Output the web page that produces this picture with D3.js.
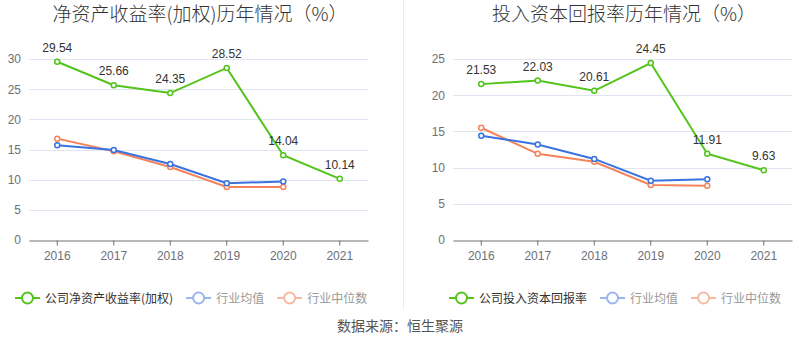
<!DOCTYPE html>
<html>
<head>
<meta charset="utf-8">
<script src="https://cdn.jsdelivr.net/npm/d3@7"></script>
<style>
  body { margin: 0; background: #fff; }
  svg { display: block; font-family: "Noto Sans CJK SC", "Liberation Sans", sans-serif; }
</style>
</head>
<body>
<div id="hook"></div>
<script>
var years = ["2016", "2017", "2018", "2019", "2020", "2021"];

var roe = [29.54, 25.66, 24.35, 28.52, 14.04, 10.14];
var roeAvg = [15.7, 14.9, 12.6, 9.4, 9.7];
var roeMed = [16.8, 14.7, 12.1, 8.8, 8.8];

var roic = [21.53, 22.03, 20.61, 24.45, 11.91, 9.63];
var roicAvg = [14.4, 13.2, 11.2, 8.2, 8.4];
var roicMed = [15.5, 11.9, 10.8, 7.6, 7.5];

var roeTicks = [0, 5, 10, 15, 20, 25, 30];
var roicTicks = [0, 5, 10, 15, 20, 25];

var green = "#52c41a", blue = "#3a72e0", orange = "#f5845a";

var svg = d3.select("#hook").append("svg")
    .attr("width", 800)
    .attr("height", 358);

// divider between the two charts
svg.append("line")
    .attr("x1", 403.5).attr("x2", 403.5)
    .attr("y1", 0).attr("y2", 310)
    .attr("stroke", "#eeeeee");

function drawChart(ox, title, main, avg, med, ticks, maxY, mainName, legendX) {
    var left = ox + 29, right = ox + 368, top = 59, bottom = 240;
    var g = svg.append("g");

    g.append("text")
        .attr("x", ox + 200).attr("y", 21)
        .attr("text-anchor", "middle")
        .attr("font-size", 19)
        .attr("font-weight", 300)
        .attr("fill", "#333")
        .text(title);

    var x = d3.scaleBand().domain(years).range([left, right]);
    var y = d3.scaleLinear().domain([0, maxY]).range([bottom, top]);
    var cx = function (i) { return x(years[i]) + x.bandwidth() / 2; };

    // grid
    g.selectAll(".grid").data(ticks.filter(function (d) { return d > 0; }))
        .enter().append("line")
        .attr("x1", left).attr("x2", right)
        .attr("y1", function (d) { return Math.round(y(d)) + 0.5; })
        .attr("y2", function (d) { return Math.round(y(d)) + 0.5; })
        .attr("stroke", "#e0e6f1");

    var yAxis = g.append("g")
        .attr("transform", "translate(" + left + ",0)")
        .call(d3.axisLeft(y).tickValues(ticks).tickSize(0).tickPadding(8));
    yAxis.select(".domain").remove();
    yAxis.selectAll("text").attr("fill", "#6e7079").attr("font-size", 12)
        .attr("font-family", "Liberation Sans, sans-serif");

    var xAxis = g.append("g")
        .attr("transform", "translate(0," + (Math.round(bottom) + 0.5) + ")")
        .call(d3.axisBottom(x).tickSizeInner(5).tickSizeOuter(0).tickPadding(6));
    xAxis.select(".domain").attr("stroke", "#6e7079");
    xAxis.selectAll(".tick line").attr("stroke", "#6e7079");
    xAxis.selectAll("text").attr("fill", "#6e7079").attr("font-size", 12)
        .attr("font-family", "Liberation Sans, sans-serif");

    var line = d3.line()
        .x(function (d, i) { return cx(i); })
        .y(function (d) { return y(d); });

    [[med, orange], [avg, blue], [main, green]].forEach(function (s) {
        g.append("path").datum(s[0])
            .attr("d", line)
            .attr("fill", "none")
            .attr("stroke", s[1])
            .attr("stroke-width", 2);
        g.selectAll(null).data(s[0]).enter().append("circle")
            .attr("cx", function (d, i) { return cx(i); })
            .attr("cy", function (d) { return y(d); })
            .attr("r", 2.5)
            .attr("fill", "#fff")
            .attr("stroke", s[1])
            .attr("stroke-width", 1.5);
    });

    g.selectAll(".lbl").data(main).enter().append("text")
        .attr("x", function (d, i) { return cx(i); })
        .attr("y", function (d) { return y(d) - 10; })
        .attr("text-anchor", "middle")
        .attr("font-size", 12)
        .attr("font-family", "Liberation Sans, sans-serif")
        .attr("fill", "#333")
        .text(function (d) { return d.toFixed(2); });

    // legend
    var items = [
        { name: mainName, color: green, text: "#333" },
        { name: "行业均值", color: "#9bb5f0", text: "#999" },
        { name: "行业中位数", color: "#f9b9a0", text: "#999" }
    ];
    var lg = g.append("g").attr("transform", "translate(" + legendX + ",298)");
    var lx = 0;
    items.forEach(function (it) {
        var gi = lg.append("g").attr("transform", "translate(" + lx + ",0)");
        gi.append("line").attr("x1", 0).attr("x2", 25).attr("y1", 0).attr("y2", 0)
            .attr("stroke", it.color).attr("stroke-width", 2);
        gi.append("circle").attr("cx", 12.5).attr("cy", 0).attr("r", 5.5)
            .attr("fill", "#fff").attr("stroke", it.color).attr("stroke-width", 2);
        var t = gi.append("text").attr("x", 30).attr("y", 4.5)
            .attr("font-size", 12).attr("fill", it.text).text(it.name);
        lx += 30 + t.node().getComputedTextLength() + 13;
    });
}

drawChart(0, "净资产收益率(加权)历年情况（%）", roe, roeAvg, roeMed, roeTicks, 30, "公司净资产收益率(加权)", 15);
drawChart(424, "投入资本回报率历年情况（%）", roic, roicAvg, roicMed, roicTicks, 25, "公司投入资本回报率", 449);

svg.append("text")
    .attr("x", 400).attr("y", 331)
    .attr("text-anchor", "middle")
    .attr("font-size", 14)
    .attr("fill", "#555")
    .text("数据来源：恒生聚源");
</script>
</body>
</html>
